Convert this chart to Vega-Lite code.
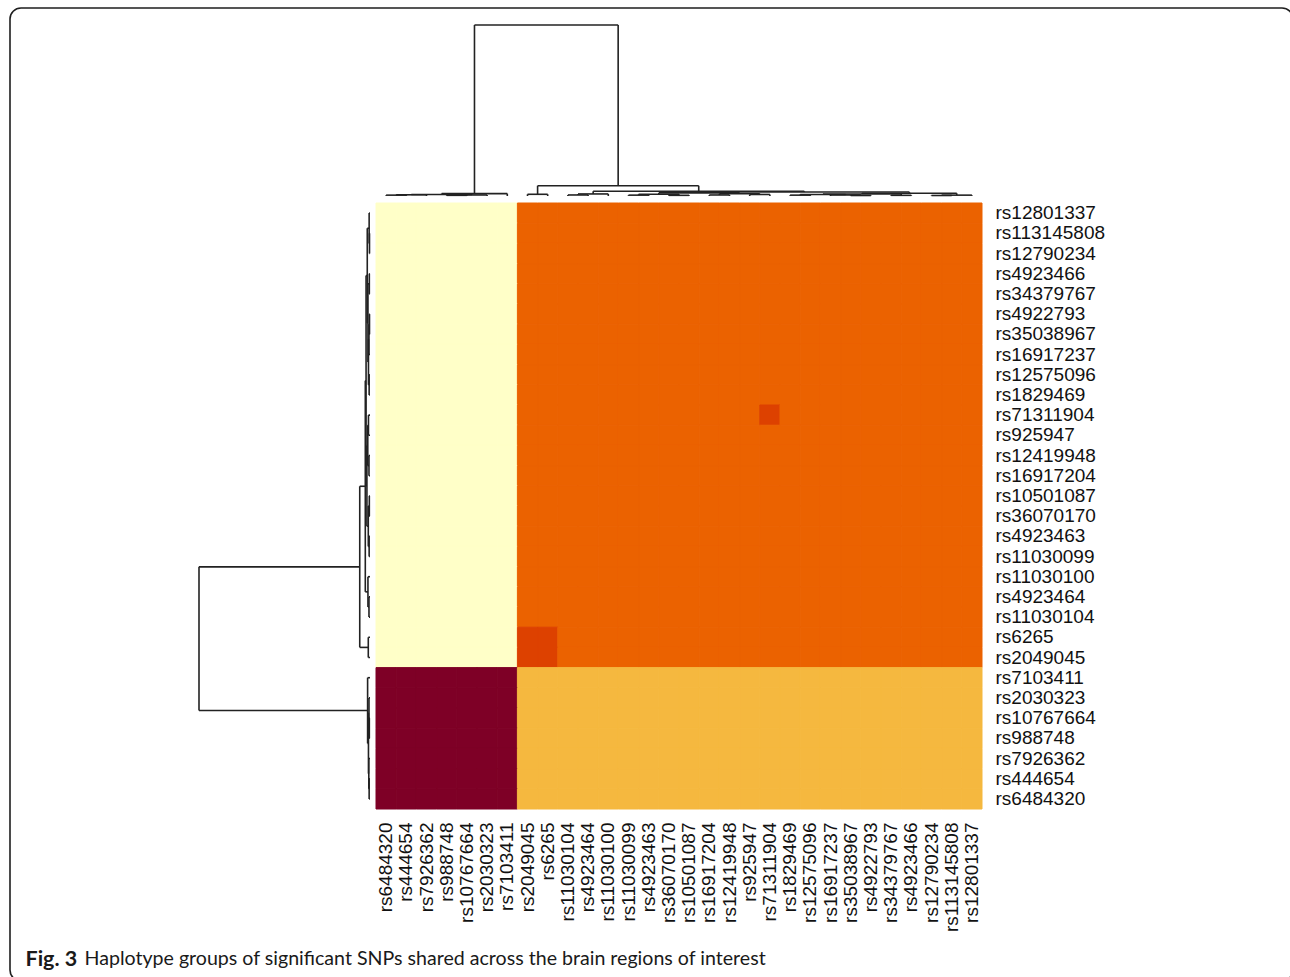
{
  "$schema": "https://vega.github.io/schema/vega-lite/v6.json",
  "width": 606,
  "height": 606,
  "autosize": "none",
  "padding": {"left": 376, "top": 203, "right": 308, "bottom": 168},
  "background": "white",
  "config": {"view": {"stroke": null}},
  "datasets": {
    "matrix": [
      {"snp":"rs12801337","rs6484320":0,"rs444654":0,"rs7926362":0,"rs988748":0,"rs10767664":0,"rs2030323":0,"rs7103411":0,"rs2049045":2,"rs6265":2,"rs11030104":2,"rs4923464":2,"rs11030100":2,"rs11030099":2,"rs4923463":2,"rs36070170":2,"rs10501087":2,"rs16917204":2,"rs12419948":2,"rs925947":2,"rs71311904":2,"rs1829469":2,"rs12575096":2,"rs16917237":2,"rs35038967":2,"rs4922793":2,"rs34379767":2,"rs4923466":2,"rs12790234":2,"rs113145808":2,"rs12801337":2},
      {"snp":"rs113145808","rs6484320":0,"rs444654":0,"rs7926362":0,"rs988748":0,"rs10767664":0,"rs2030323":0,"rs7103411":0,"rs2049045":2,"rs6265":2,"rs11030104":2,"rs4923464":2,"rs11030100":2,"rs11030099":2,"rs4923463":2,"rs36070170":2,"rs10501087":2,"rs16917204":2,"rs12419948":2,"rs925947":2,"rs71311904":2,"rs1829469":2,"rs12575096":2,"rs16917237":2,"rs35038967":2,"rs4922793":2,"rs34379767":2,"rs4923466":2,"rs12790234":2,"rs113145808":2,"rs12801337":2},
      {"snp":"rs12790234","rs6484320":0,"rs444654":0,"rs7926362":0,"rs988748":0,"rs10767664":0,"rs2030323":0,"rs7103411":0,"rs2049045":2,"rs6265":2,"rs11030104":2,"rs4923464":2,"rs11030100":2,"rs11030099":2,"rs4923463":2,"rs36070170":2,"rs10501087":2,"rs16917204":2,"rs12419948":2,"rs925947":2,"rs71311904":2,"rs1829469":2,"rs12575096":2,"rs16917237":2,"rs35038967":2,"rs4922793":2,"rs34379767":2,"rs4923466":2,"rs12790234":2,"rs113145808":2,"rs12801337":2},
      {"snp":"rs4923466","rs6484320":0,"rs444654":0,"rs7926362":0,"rs988748":0,"rs10767664":0,"rs2030323":0,"rs7103411":0,"rs2049045":2,"rs6265":2,"rs11030104":2,"rs4923464":2,"rs11030100":2,"rs11030099":2,"rs4923463":2,"rs36070170":2,"rs10501087":2,"rs16917204":2,"rs12419948":2,"rs925947":2,"rs71311904":2,"rs1829469":2,"rs12575096":2,"rs16917237":2,"rs35038967":2,"rs4922793":2,"rs34379767":2,"rs4923466":2,"rs12790234":2,"rs113145808":2,"rs12801337":2},
      {"snp":"rs34379767","rs6484320":0,"rs444654":0,"rs7926362":0,"rs988748":0,"rs10767664":0,"rs2030323":0,"rs7103411":0,"rs2049045":2,"rs6265":2,"rs11030104":2,"rs4923464":2,"rs11030100":2,"rs11030099":2,"rs4923463":2,"rs36070170":2,"rs10501087":2,"rs16917204":2,"rs12419948":2,"rs925947":2,"rs71311904":2,"rs1829469":2,"rs12575096":2,"rs16917237":2,"rs35038967":2,"rs4922793":2,"rs34379767":2,"rs4923466":2,"rs12790234":2,"rs113145808":2,"rs12801337":2},
      {"snp":"rs4922793","rs6484320":0,"rs444654":0,"rs7926362":0,"rs988748":0,"rs10767664":0,"rs2030323":0,"rs7103411":0,"rs2049045":2,"rs6265":2,"rs11030104":2,"rs4923464":2,"rs11030100":2,"rs11030099":2,"rs4923463":2,"rs36070170":2,"rs10501087":2,"rs16917204":2,"rs12419948":2,"rs925947":2,"rs71311904":2,"rs1829469":2,"rs12575096":2,"rs16917237":2,"rs35038967":2,"rs4922793":2,"rs34379767":2,"rs4923466":2,"rs12790234":2,"rs113145808":2,"rs12801337":2},
      {"snp":"rs35038967","rs6484320":0,"rs444654":0,"rs7926362":0,"rs988748":0,"rs10767664":0,"rs2030323":0,"rs7103411":0,"rs2049045":2,"rs6265":2,"rs11030104":2,"rs4923464":2,"rs11030100":2,"rs11030099":2,"rs4923463":2,"rs36070170":2,"rs10501087":2,"rs16917204":2,"rs12419948":2,"rs925947":2,"rs71311904":2,"rs1829469":2,"rs12575096":2,"rs16917237":2,"rs35038967":2,"rs4922793":2,"rs34379767":2,"rs4923466":2,"rs12790234":2,"rs113145808":2,"rs12801337":2},
      {"snp":"rs16917237","rs6484320":0,"rs444654":0,"rs7926362":0,"rs988748":0,"rs10767664":0,"rs2030323":0,"rs7103411":0,"rs2049045":2,"rs6265":2,"rs11030104":2,"rs4923464":2,"rs11030100":2,"rs11030099":2,"rs4923463":2,"rs36070170":2,"rs10501087":2,"rs16917204":2,"rs12419948":2,"rs925947":2,"rs71311904":2,"rs1829469":2,"rs12575096":2,"rs16917237":2,"rs35038967":2,"rs4922793":2,"rs34379767":2,"rs4923466":2,"rs12790234":2,"rs113145808":2,"rs12801337":2},
      {"snp":"rs12575096","rs6484320":0,"rs444654":0,"rs7926362":0,"rs988748":0,"rs10767664":0,"rs2030323":0,"rs7103411":0,"rs2049045":2,"rs6265":2,"rs11030104":2,"rs4923464":2,"rs11030100":2,"rs11030099":2,"rs4923463":2,"rs36070170":2,"rs10501087":2,"rs16917204":2,"rs12419948":2,"rs925947":2,"rs71311904":2,"rs1829469":2,"rs12575096":2,"rs16917237":2,"rs35038967":2,"rs4922793":2,"rs34379767":2,"rs4923466":2,"rs12790234":2,"rs113145808":2,"rs12801337":2},
      {"snp":"rs1829469","rs6484320":0,"rs444654":0,"rs7926362":0,"rs988748":0,"rs10767664":0,"rs2030323":0,"rs7103411":0,"rs2049045":2,"rs6265":2,"rs11030104":2,"rs4923464":2,"rs11030100":2,"rs11030099":2,"rs4923463":2,"rs36070170":2,"rs10501087":2,"rs16917204":2,"rs12419948":2,"rs925947":2,"rs71311904":2,"rs1829469":2,"rs12575096":2,"rs16917237":2,"rs35038967":2,"rs4922793":2,"rs34379767":2,"rs4923466":2,"rs12790234":2,"rs113145808":2,"rs12801337":2},
      {"snp":"rs71311904","rs6484320":0,"rs444654":0,"rs7926362":0,"rs988748":0,"rs10767664":0,"rs2030323":0,"rs7103411":0,"rs2049045":2,"rs6265":2,"rs11030104":2,"rs4923464":2,"rs11030100":2,"rs11030099":2,"rs4923463":2,"rs36070170":2,"rs10501087":2,"rs16917204":2,"rs12419948":2,"rs925947":2,"rs71311904":3,"rs1829469":2,"rs12575096":2,"rs16917237":2,"rs35038967":2,"rs4922793":2,"rs34379767":2,"rs4923466":2,"rs12790234":2,"rs113145808":2,"rs12801337":2},
      {"snp":"rs925947","rs6484320":0,"rs444654":0,"rs7926362":0,"rs988748":0,"rs10767664":0,"rs2030323":0,"rs7103411":0,"rs2049045":2,"rs6265":2,"rs11030104":2,"rs4923464":2,"rs11030100":2,"rs11030099":2,"rs4923463":2,"rs36070170":2,"rs10501087":2,"rs16917204":2,"rs12419948":2,"rs925947":2,"rs71311904":2,"rs1829469":2,"rs12575096":2,"rs16917237":2,"rs35038967":2,"rs4922793":2,"rs34379767":2,"rs4923466":2,"rs12790234":2,"rs113145808":2,"rs12801337":2},
      {"snp":"rs12419948","rs6484320":0,"rs444654":0,"rs7926362":0,"rs988748":0,"rs10767664":0,"rs2030323":0,"rs7103411":0,"rs2049045":2,"rs6265":2,"rs11030104":2,"rs4923464":2,"rs11030100":2,"rs11030099":2,"rs4923463":2,"rs36070170":2,"rs10501087":2,"rs16917204":2,"rs12419948":2,"rs925947":2,"rs71311904":2,"rs1829469":2,"rs12575096":2,"rs16917237":2,"rs35038967":2,"rs4922793":2,"rs34379767":2,"rs4923466":2,"rs12790234":2,"rs113145808":2,"rs12801337":2},
      {"snp":"rs16917204","rs6484320":0,"rs444654":0,"rs7926362":0,"rs988748":0,"rs10767664":0,"rs2030323":0,"rs7103411":0,"rs2049045":2,"rs6265":2,"rs11030104":2,"rs4923464":2,"rs11030100":2,"rs11030099":2,"rs4923463":2,"rs36070170":2,"rs10501087":2,"rs16917204":2,"rs12419948":2,"rs925947":2,"rs71311904":2,"rs1829469":2,"rs12575096":2,"rs16917237":2,"rs35038967":2,"rs4922793":2,"rs34379767":2,"rs4923466":2,"rs12790234":2,"rs113145808":2,"rs12801337":2},
      {"snp":"rs10501087","rs6484320":0,"rs444654":0,"rs7926362":0,"rs988748":0,"rs10767664":0,"rs2030323":0,"rs7103411":0,"rs2049045":2,"rs6265":2,"rs11030104":2,"rs4923464":2,"rs11030100":2,"rs11030099":2,"rs4923463":2,"rs36070170":2,"rs10501087":2,"rs16917204":2,"rs12419948":2,"rs925947":2,"rs71311904":2,"rs1829469":2,"rs12575096":2,"rs16917237":2,"rs35038967":2,"rs4922793":2,"rs34379767":2,"rs4923466":2,"rs12790234":2,"rs113145808":2,"rs12801337":2},
      {"snp":"rs36070170","rs6484320":0,"rs444654":0,"rs7926362":0,"rs988748":0,"rs10767664":0,"rs2030323":0,"rs7103411":0,"rs2049045":2,"rs6265":2,"rs11030104":2,"rs4923464":2,"rs11030100":2,"rs11030099":2,"rs4923463":2,"rs36070170":2,"rs10501087":2,"rs16917204":2,"rs12419948":2,"rs925947":2,"rs71311904":2,"rs1829469":2,"rs12575096":2,"rs16917237":2,"rs35038967":2,"rs4922793":2,"rs34379767":2,"rs4923466":2,"rs12790234":2,"rs113145808":2,"rs12801337":2},
      {"snp":"rs4923463","rs6484320":0,"rs444654":0,"rs7926362":0,"rs988748":0,"rs10767664":0,"rs2030323":0,"rs7103411":0,"rs2049045":2,"rs6265":2,"rs11030104":2,"rs4923464":2,"rs11030100":2,"rs11030099":2,"rs4923463":2,"rs36070170":2,"rs10501087":2,"rs16917204":2,"rs12419948":2,"rs925947":2,"rs71311904":2,"rs1829469":2,"rs12575096":2,"rs16917237":2,"rs35038967":2,"rs4922793":2,"rs34379767":2,"rs4923466":2,"rs12790234":2,"rs113145808":2,"rs12801337":2},
      {"snp":"rs11030099","rs6484320":0,"rs444654":0,"rs7926362":0,"rs988748":0,"rs10767664":0,"rs2030323":0,"rs7103411":0,"rs2049045":2,"rs6265":2,"rs11030104":2,"rs4923464":2,"rs11030100":2,"rs11030099":2,"rs4923463":2,"rs36070170":2,"rs10501087":2,"rs16917204":2,"rs12419948":2,"rs925947":2,"rs71311904":2,"rs1829469":2,"rs12575096":2,"rs16917237":2,"rs35038967":2,"rs4922793":2,"rs34379767":2,"rs4923466":2,"rs12790234":2,"rs113145808":2,"rs12801337":2},
      {"snp":"rs11030100","rs6484320":0,"rs444654":0,"rs7926362":0,"rs988748":0,"rs10767664":0,"rs2030323":0,"rs7103411":0,"rs2049045":2,"rs6265":2,"rs11030104":2,"rs4923464":2,"rs11030100":2,"rs11030099":2,"rs4923463":2,"rs36070170":2,"rs10501087":2,"rs16917204":2,"rs12419948":2,"rs925947":2,"rs71311904":2,"rs1829469":2,"rs12575096":2,"rs16917237":2,"rs35038967":2,"rs4922793":2,"rs34379767":2,"rs4923466":2,"rs12790234":2,"rs113145808":2,"rs12801337":2},
      {"snp":"rs4923464","rs6484320":0,"rs444654":0,"rs7926362":0,"rs988748":0,"rs10767664":0,"rs2030323":0,"rs7103411":0,"rs2049045":2,"rs6265":2,"rs11030104":2,"rs4923464":2,"rs11030100":2,"rs11030099":2,"rs4923463":2,"rs36070170":2,"rs10501087":2,"rs16917204":2,"rs12419948":2,"rs925947":2,"rs71311904":2,"rs1829469":2,"rs12575096":2,"rs16917237":2,"rs35038967":2,"rs4922793":2,"rs34379767":2,"rs4923466":2,"rs12790234":2,"rs113145808":2,"rs12801337":2},
      {"snp":"rs11030104","rs6484320":0,"rs444654":0,"rs7926362":0,"rs988748":0,"rs10767664":0,"rs2030323":0,"rs7103411":0,"rs2049045":2,"rs6265":2,"rs11030104":2,"rs4923464":2,"rs11030100":2,"rs11030099":2,"rs4923463":2,"rs36070170":2,"rs10501087":2,"rs16917204":2,"rs12419948":2,"rs925947":2,"rs71311904":2,"rs1829469":2,"rs12575096":2,"rs16917237":2,"rs35038967":2,"rs4922793":2,"rs34379767":2,"rs4923466":2,"rs12790234":2,"rs113145808":2,"rs12801337":2},
      {"snp":"rs6265","rs6484320":0,"rs444654":0,"rs7926362":0,"rs988748":0,"rs10767664":0,"rs2030323":0,"rs7103411":0,"rs2049045":3,"rs6265":3,"rs11030104":2,"rs4923464":2,"rs11030100":2,"rs11030099":2,"rs4923463":2,"rs36070170":2,"rs10501087":2,"rs16917204":2,"rs12419948":2,"rs925947":2,"rs71311904":2,"rs1829469":2,"rs12575096":2,"rs16917237":2,"rs35038967":2,"rs4922793":2,"rs34379767":2,"rs4923466":2,"rs12790234":2,"rs113145808":2,"rs12801337":2},
      {"snp":"rs2049045","rs6484320":0,"rs444654":0,"rs7926362":0,"rs988748":0,"rs10767664":0,"rs2030323":0,"rs7103411":0,"rs2049045":3,"rs6265":3,"rs11030104":2,"rs4923464":2,"rs11030100":2,"rs11030099":2,"rs4923463":2,"rs36070170":2,"rs10501087":2,"rs16917204":2,"rs12419948":2,"rs925947":2,"rs71311904":2,"rs1829469":2,"rs12575096":2,"rs16917237":2,"rs35038967":2,"rs4922793":2,"rs34379767":2,"rs4923466":2,"rs12790234":2,"rs113145808":2,"rs12801337":2},
      {"snp":"rs7103411","rs6484320":4,"rs444654":4,"rs7926362":4,"rs988748":4,"rs10767664":4,"rs2030323":4,"rs7103411":4,"rs2049045":1,"rs6265":1,"rs11030104":1,"rs4923464":1,"rs11030100":1,"rs11030099":1,"rs4923463":1,"rs36070170":1,"rs10501087":1,"rs16917204":1,"rs12419948":1,"rs925947":1,"rs71311904":1,"rs1829469":1,"rs12575096":1,"rs16917237":1,"rs35038967":1,"rs4922793":1,"rs34379767":1,"rs4923466":1,"rs12790234":1,"rs113145808":1,"rs12801337":1},
      {"snp":"rs2030323","rs6484320":4,"rs444654":4,"rs7926362":4,"rs988748":4,"rs10767664":4,"rs2030323":4,"rs7103411":4,"rs2049045":1,"rs6265":1,"rs11030104":1,"rs4923464":1,"rs11030100":1,"rs11030099":1,"rs4923463":1,"rs36070170":1,"rs10501087":1,"rs16917204":1,"rs12419948":1,"rs925947":1,"rs71311904":1,"rs1829469":1,"rs12575096":1,"rs16917237":1,"rs35038967":1,"rs4922793":1,"rs34379767":1,"rs4923466":1,"rs12790234":1,"rs113145808":1,"rs12801337":1},
      {"snp":"rs10767664","rs6484320":4,"rs444654":4,"rs7926362":4,"rs988748":4,"rs10767664":4,"rs2030323":4,"rs7103411":4,"rs2049045":1,"rs6265":1,"rs11030104":1,"rs4923464":1,"rs11030100":1,"rs11030099":1,"rs4923463":1,"rs36070170":1,"rs10501087":1,"rs16917204":1,"rs12419948":1,"rs925947":1,"rs71311904":1,"rs1829469":1,"rs12575096":1,"rs16917237":1,"rs35038967":1,"rs4922793":1,"rs34379767":1,"rs4923466":1,"rs12790234":1,"rs113145808":1,"rs12801337":1},
      {"snp":"rs988748","rs6484320":4,"rs444654":4,"rs7926362":4,"rs988748":4,"rs10767664":4,"rs2030323":4,"rs7103411":4,"rs2049045":1,"rs6265":1,"rs11030104":1,"rs4923464":1,"rs11030100":1,"rs11030099":1,"rs4923463":1,"rs36070170":1,"rs10501087":1,"rs16917204":1,"rs12419948":1,"rs925947":1,"rs71311904":1,"rs1829469":1,"rs12575096":1,"rs16917237":1,"rs35038967":1,"rs4922793":1,"rs34379767":1,"rs4923466":1,"rs12790234":1,"rs113145808":1,"rs12801337":1},
      {"snp":"rs7926362","rs6484320":4,"rs444654":4,"rs7926362":4,"rs988748":4,"rs10767664":4,"rs2030323":4,"rs7103411":4,"rs2049045":1,"rs6265":1,"rs11030104":1,"rs4923464":1,"rs11030100":1,"rs11030099":1,"rs4923463":1,"rs36070170":1,"rs10501087":1,"rs16917204":1,"rs12419948":1,"rs925947":1,"rs71311904":1,"rs1829469":1,"rs12575096":1,"rs16917237":1,"rs35038967":1,"rs4922793":1,"rs34379767":1,"rs4923466":1,"rs12790234":1,"rs113145808":1,"rs12801337":1},
      {"snp":"rs444654","rs6484320":4,"rs444654":4,"rs7926362":4,"rs988748":4,"rs10767664":4,"rs2030323":4,"rs7103411":4,"rs2049045":1,"rs6265":1,"rs11030104":1,"rs4923464":1,"rs11030100":1,"rs11030099":1,"rs4923463":1,"rs36070170":1,"rs10501087":1,"rs16917204":1,"rs12419948":1,"rs925947":1,"rs71311904":1,"rs1829469":1,"rs12575096":1,"rs16917237":1,"rs35038967":1,"rs4922793":1,"rs34379767":1,"rs4923466":1,"rs12790234":1,"rs113145808":1,"rs12801337":1},
      {"snp":"rs6484320","rs6484320":4,"rs444654":4,"rs7926362":4,"rs988748":4,"rs10767664":4,"rs2030323":4,"rs7103411":4,"rs2049045":1,"rs6265":1,"rs11030104":1,"rs4923464":1,"rs11030100":1,"rs11030099":1,"rs4923463":1,"rs36070170":1,"rs10501087":1,"rs16917204":1,"rs12419948":1,"rs925947":1,"rs71311904":1,"rs1829469":1,"rs12575096":1,"rs16917237":1,"rs35038967":1,"rs4922793":1,"rs34379767":1,"rs4923466":1,"rs12790234":1,"rs113145808":1,"rs12801337":1}
    ],
    "tree": [
      {"lp":0.5,"lh":0,"rp":1.5,"rh":0,"h":0.5},
      {"lp":1.0,"lh":0.5,"rp":2.5,"rh":0,"h":0.7},
      {"lp":3.5,"lh":0,"rp":4.5,"rh":0,"h":0.4},
      {"lp":4.0,"lh":0.4,"rp":5.5,"rh":0,"h":0.6},
      {"lp":1.75,"lh":0.7,"rp":4.75,"rh":0.6,"h":0.9},
      {"lp":3.25,"lh":0.9,"rp":6.5,"rh":0,"h":1.4},
      {"lp":7.5,"lh":0,"rp":8.5,"rh":0,"h":1.0},
      {"lp":9.5,"lh":0,"rp":10.5,"rh":0,"h":0.6},
      {"lp":10.0,"lh":0.6,"rp":11.5,"rh":0,"h":1.2},
      {"lp":12.5,"lh":0,"rp":13.5,"rh":0,"h":0.5},
      {"lp":14.5,"lh":0,"rp":15.5,"rh":0,"h":0.4},
      {"lp":13.0,"lh":0.5,"rp":15.0,"rh":0.4,"h":1.0},
      {"lp":16.5,"lh":0,"rp":17.5,"rh":0,"h":0.6},
      {"lp":18.5,"lh":0,"rp":19.5,"rh":0,"h":0.9},
      {"lp":17.0,"lh":0.6,"rp":19.0,"rh":0.9,"h":1.3},
      {"lp":14.0,"lh":1.0,"rp":18.0,"rh":1.3,"h":1.8},
      {"lp":20.5,"lh":0,"rp":21.5,"rh":0,"h":0.5},
      {"lp":23.5,"lh":0,"rp":24.5,"rh":0,"h":0.3},
      {"lp":22.5,"lh":0,"rp":24.0,"rh":0.3,"h":0.6},
      {"lp":21.0,"lh":0.5,"rp":23.25,"rh":0.6,"h":0.9},
      {"lp":25.5,"lh":0,"rp":26.5,"rh":0,"h":0.4},
      {"lp":22.125,"lh":0.9,"rp":26.0,"rh":0.4,"h":1.2},
      {"lp":27.5,"lh":0,"rp":28.5,"rh":0,"h":0.3},
      {"lp":28.0,"lh":0.3,"rp":29.5,"rh":0,"h":0.5},
      {"lp":24.0625,"lh":1.2,"rp":28.75,"rh":0.5,"h":1.6},
      {"lp":16.0,"lh":1.8,"rp":26.40625,"rh":1.6,"h":2.3},
      {"lp":10.75,"lh":1.2,"rp":21.203125,"rh":2.3,"h":2.75},
      {"lp":8.0,"lh":1.0,"rp":15.9765625,"rh":2.75,"h":6.0},
      {"lp":4.875,"lh":1.4,"rp":11.98828125,"rh":6.0,"h":100}
    ]
  },
  "layer": [
    {
      "data": {"values": [{}]},
      "mark": {"type": "rect", "fill": "transparent", "stroke": "#1e1e1e", "strokeWidth": 1.6, "cornerRadius": 11},
      "encoding": {
        "x": {"datum": 0, "type": "quantitative", "scale": {"domain": [0, 1], "range": [-366, 917], "nice": false, "zero": false}, "axis": null},
        "x2": {"datum": 1},
        "y": {"datum": 0, "type": "quantitative", "scale": {"domain": [0, 1], "range": [-195, 778], "nice": false, "zero": false}, "axis": null},
        "y2": {"datum": 1}
      }
    },
    {
      "data": {"name": "matrix"},
      "transform": [
        {"fold": ["rs6484320","rs444654","rs7926362","rs988748","rs10767664","rs2030323","rs7103411","rs2049045","rs6265","rs11030104","rs4923464","rs11030100","rs11030099","rs4923463","rs36070170","rs10501087","rs16917204","rs12419948","rs925947","rs71311904","rs1829469","rs12575096","rs16917237","rs35038967","rs4922793","rs34379767","rs4923466","rs12790234","rs113145808","rs12801337"], "as": ["col", "level"]}
      ],
      "mark": {"type": "rect", "strokeWidth": 1, "strokeOpacity": 1, "opacity": 1},
      "encoding": {
        "x": {
          "field": "col", "type": "nominal",
          "sort": ["rs6484320","rs444654","rs7926362","rs988748","rs10767664","rs2030323","rs7103411","rs2049045","rs6265","rs11030104","rs4923464","rs11030100","rs11030099","rs4923463","rs36070170","rs10501087","rs16917204","rs12419948","rs925947","rs71311904","rs1829469","rs12575096","rs16917237","rs35038967","rs4922793","rs34379767","rs4923466","rs12790234","rs113145808","rs12801337"],
          "scale": {"paddingInner": 0, "paddingOuter": 0},
          "axis": {
            "orient": "bottom", "domain": false, "ticks": false, "tickSize": 0,
            "labelAngle": 270, "labelPadding": 13, "labelFont": "Liberation Sans", "labelFontSize": 19, "labelColor": "#111111", "labelOverlap": false,
            "title": "Haplotype groups of significant SNPs shared across the brain regions of interest",
            "titleFont": "Lato", "titleFontSize": 19.6, "titleFontWeight": "normal", "titleColor": "#1a1a1a",
            "titleX": -292, "titleY": 155, "titleAngle": 0, "titleAlign": "left", "titleBaseline": "alphabetic"
          }
        },
        "y": {
          "field": "snp", "type": "nominal",
          "sort": ["rs12801337","rs113145808","rs12790234","rs4923466","rs34379767","rs4922793","rs35038967","rs16917237","rs12575096","rs1829469","rs71311904","rs925947","rs12419948","rs16917204","rs10501087","rs36070170","rs4923463","rs11030099","rs11030100","rs4923464","rs11030104","rs6265","rs2049045","rs7103411","rs2030323","rs10767664","rs988748","rs7926362","rs444654","rs6484320"],
          "scale": {"paddingInner": 0, "paddingOuter": 0},
          "axis": {
            "orient": "right", "domain": false, "ticks": false, "tickSize": 0,
            "labelPadding": 13, "labelFont": "Liberation Sans", "labelFontSize": 19, "labelColor": "#111111", "labelOverlap": false,
            "title": "Fig. 3",
            "titleFont": "Lato", "titleFontSize": 21.5, "titleFontWeight": "bold", "titleColor": "#1a1a1a",
            "titleX": -957, "titleY": 762, "titleAngle": 0, "titleAlign": "left", "titleBaseline": "alphabetic"
          }
        },
        "color": {"field": "level", "type": "ordinal", "scale": {"domain": [0, 1, 2, 3, 4], "range": ["#FFFFC8", "#F5B83F", "#EB6200", "#DD4100", "#7E0026"]}, "legend": null},
        "stroke": {"field": "level", "type": "ordinal", "scale": {"domain": [0, 1, 2, 3, 4], "range": ["#FFFFC8", "#F5B83F", "#EB6200", "#DD4100", "#7E0026"]}, "legend": null}
      }
    },
    {
      "data": {"name": "tree"},
      "mark": {"type": "rule", "color": "#222222", "strokeWidth": 1.6},
      "encoding": {
        "x": {"field": "lp", "type": "quantitative", "scale": {"domain": [0, 30], "nice": false, "zero": false}, "axis": null},
        "x2": {"field": "rp"},
        "y": {"field": "h", "type": "quantitative", "scale": {"domain": [0, 100], "range": [-7, -178], "nice": false, "zero": false}, "axis": null}
      }
    },
    {
      "data": {"name": "tree"},
      "mark": {"type": "rule", "color": "#222222", "strokeWidth": 1.6},
      "encoding": {
        "x": {"field": "lp", "type": "quantitative", "scale": {"domain": [0, 30], "nice": false, "zero": false}, "axis": null},
        "y": {"field": "lh", "type": "quantitative", "scale": {"domain": [0, 100], "range": [-7, -178], "nice": false, "zero": false}, "axis": null},
        "y2": {"field": "h"}
      }
    },
    {
      "data": {"name": "tree"},
      "mark": {"type": "rule", "color": "#222222", "strokeWidth": 1.6},
      "encoding": {
        "x": {"field": "rp", "type": "quantitative", "scale": {"domain": [0, 30], "nice": false, "zero": false}, "axis": null},
        "y": {"field": "rh", "type": "quantitative", "scale": {"domain": [0, 100], "range": [-7, -178], "nice": false, "zero": false}, "axis": null},
        "y2": {"field": "h"}
      }
    },
    {
      "data": {"name": "tree"},
      "mark": {"type": "rule", "color": "#222222", "strokeWidth": 1.6},
      "encoding": {
        "y": {"field": "lp", "type": "quantitative", "scale": {"domain": [0, 30], "nice": false, "zero": false}, "axis": null},
        "y2": {"field": "rp"},
        "x": {"field": "h", "type": "quantitative", "scale": {"domain": [0, 100], "range": [-6, -177], "nice": false, "zero": false}, "axis": null}
      }
    },
    {
      "data": {"name": "tree"},
      "mark": {"type": "rule", "color": "#222222", "strokeWidth": 1.6},
      "encoding": {
        "y": {"field": "lp", "type": "quantitative", "scale": {"domain": [0, 30], "nice": false, "zero": false}, "axis": null},
        "x": {"field": "lh", "type": "quantitative", "scale": {"domain": [0, 100], "range": [-6, -177], "nice": false, "zero": false}, "axis": null},
        "x2": {"field": "h"}
      }
    },
    {
      "data": {"name": "tree"},
      "mark": {"type": "rule", "color": "#222222", "strokeWidth": 1.6},
      "encoding": {
        "y": {"field": "rp", "type": "quantitative", "scale": {"domain": [0, 30], "nice": false, "zero": false}, "axis": null},
        "x": {"field": "rh", "type": "quantitative", "scale": {"domain": [0, 100], "range": [-6, -177], "nice": false, "zero": false}, "axis": null},
        "x2": {"field": "h"}
      }
    }
  ],
  "resolve": {
    "scale": {"x": "independent", "y": "independent", "color": "independent", "stroke": "independent"},
    "axis": {"x": "independent", "y": "independent"}
  }
}
